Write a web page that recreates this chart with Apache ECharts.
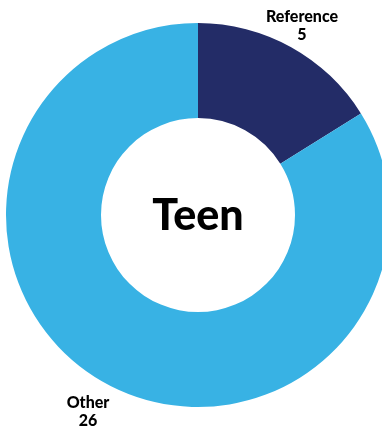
<!DOCTYPE html>
<html>
<head>
<meta charset="utf-8">
<script src="https://cdn.jsdelivr.net/npm/echarts@6/dist/echarts.min.js"></script>
<style>
  html, body { margin: 0; padding: 0; background: #fff; }
  #chart { width: 382px; height: 430px; }
</style>
</head>
<body>
<div id="chart"></div>
<script>
// Donut: share of "Reference" vs "Other" for the Teen group
const categories = ['Reference', 'Other'];
const values = [5, 26];
const sliceColors = ['#232C67', '#38B2E4'];
const centerLabel = 'Teen';

// Fixed label anchors (centre of each text block)
const labelAnchors = [[302, 26], [88, 412]];

const chart = echarts.init(document.getElementById('chart'), null, { renderer: 'canvas' });

chart.setOption({
  animation: false,
  graphic: [{
    type: 'text',
    style: {
      text: centerLabel,
      x: 198,
      y: 216,
      align: 'center',
      verticalAlign: 'middle',
      fontFamily: 'Lato',
      fontWeight: 900,
      fontSize: 43,
      fill: '#000'
    }
  }],
  series: [{
    type: 'pie',
    center: [198, 215],
    radius: [97, 192],
    startAngle: 90,
    clockwise: true,
    silent: true,
    data: categories.map((name, i) => ({
      name,
      value: values[i],
      itemStyle: { color: sliceColors[i] }
    })),
    label: {
      show: true,
      position: 'outside',
      formatter: '{b}\n{c}',
      fontFamily: 'Lato',
      fontWeight: 900,
      fontSize: 16,
      lineHeight: 18,
      color: '#000',
      align: 'center',
      overflow: 'none',
      width: 120
    },
    labelLine: { show: false },
    labelLayout: function (params) {
      const a = labelAnchors[params.dataIndex];
      return { x: a[0], y: a[1], align: 'center', verticalAlign: 'middle' };
    }
  }]
});
</script>
</body>
</html>
